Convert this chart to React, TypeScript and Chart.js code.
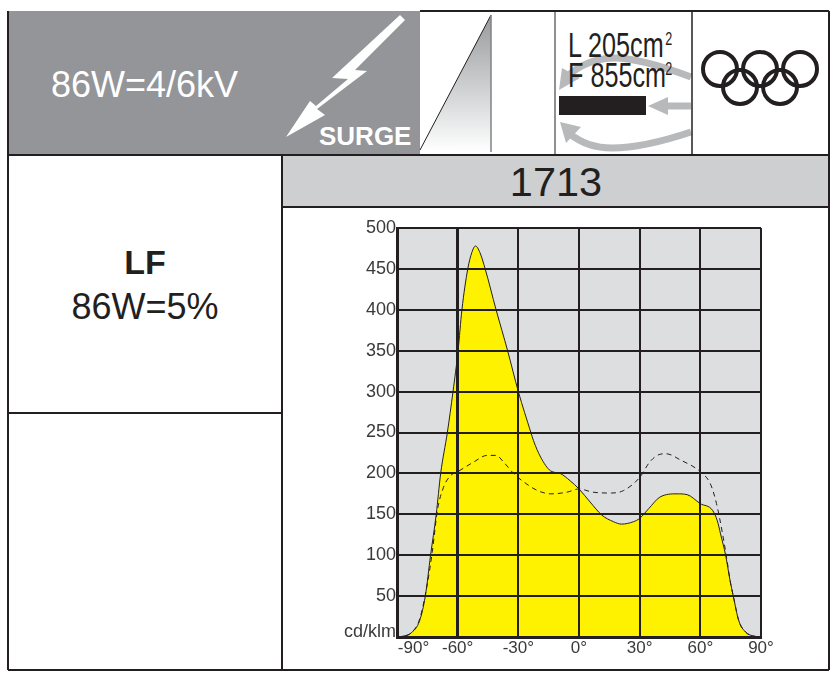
import React, { useEffect, useRef } from "react";
import { Chart, registerables } from "chart.js";

Chart.register(...registerables);

const solidAngles = [-90,-87,-83,-78.8,-76,-73.4,-70.6,-68.4,-65.1,-62.3,-59.8,-57.9,-55,-53,-51.2,-49,-46.4,-41,-35.3,-30,-23.8,-22.5,-19,-14,-9.4,-4.4,0,5.5,11.3,17,21,27,30,34.5,40,48.5,53.5,60,66,68.4,70,72.5,74.7,76.3,79,82.4,86.6,90];
const solidValues = [0,1,5,20,50,100,150,200,250,300,350,400,450,470,478,470,450,400,350,300,250,240,220,203,200,191,181,165,149,141,138,141,145,157,171,175,174,163,155,142,126,100,69,50,20,6,1,0];
const dashedAngles = [-90,-87,-83,-78.8,-75,-72.5,-70,-67,-63.6,-60,-52,-45.5,-41,-37,-32,-27,-20.5,-14,-6,0,7,16,22,30,35,39.6,43,50.5,60,65,68,71,73,75,76.3,79,82.4,86.6,90];
const dashedValues = [0,1,5,22,65,105,155,183,197,202,214,222,222,213,199,189,179,175,177,181,177,176,179,195,214,223,224,216,202,187,163,126,97,65,50,20,6,1,0];
const yTicks = [0,50,100,150,200,250,300,350,400,450,500];
const xTicks = [-90,-60,-30,0,30,60,90];

const INK = "#231f20";
const sans = '"Liberation Sans", Arial, sans-serif';

const plotBg = {
  id: "plotBg",
  beforeDraw(chart: any) {
    const { ctx, chartArea: a } = chart;
    ctx.save();
    ctx.fillStyle = "#dcdee0";
    ctx.fillRect(a.left, a.top, a.right - a.left, a.bottom - a.top);
    ctx.restore();
  },
};

function toPoints(xs: number[], ys: number[]) {
  return xs.map((x, i) => ({ x, y: ys[i] }));
}

export default function App() {
  const ref = useRef<HTMLCanvasElement>(null);
  useEffect(() => {
    const chart = new Chart(ref.current as HTMLCanvasElement, {
      type: "line",
      data: {
        datasets: [
          {
            data: toPoints(solidAngles, solidValues),
            order: 2,
            borderColor: INK,
            borderWidth: 1,
            backgroundColor: "#fff200",
            fill: "origin",
            pointRadius: 0,
            cubicInterpolationMode: "monotone",
          },
          {
            data: toPoints(dashedAngles, dashedValues),
            order: 1,
            borderColor: INK,
            borderWidth: 1,
            borderDash: [5, 4],
            fill: false,
            pointRadius: 0,
            cubicInterpolationMode: "monotone",
          },
        ],
      },
      options: {
        responsive: false,
        animation: false,
        layout: { padding: { left: 0, top: 20, right: 67, bottom: 0 } },
        plugins: { legend: { display: false }, tooltip: { enabled: false } },
        scales: {
          x: {
            type: "linear",
            min: -90,
            max: 90,
            afterBuildTicks(s: any) {
              s.ticks = xTicks.map((value) => ({ value }));
            },
            afterFit(s: any) {
              s.height = 31;
              s.paddingLeft = 0;
              s.paddingRight = 0;
            },
            border: { color: INK, width: 3, z: 2 },
            grid: {
              z: 1,
              color: INK,
              drawTicks: false,
              lineWidth: (c: any) => (c.tick && c.tick.value === -60 ? 3 : 2),
            },
            ticks: {
              autoSkip: false,
              maxRotation: 0,
              padding: 1,
              color: "#3a3a3c",
              font: { family: sans, size: 17 },
              callback: (v: any) => (v === -90 ? `       ${v}°` : `${v}°`),
            },
          },
          y: {
            type: "linear",
            min: 0,
            max: 500,
            afterBuildTicks(s: any) {
              s.ticks = yTicks.map((value) => ({ value }));
            },
            afterFit(s: any) {
              s.width = 115;
              s.paddingTop = 0;
              s.paddingBottom = 0;
            },
            border: { color: INK, width: 3, z: 2 },
            grid: { z: 1, color: INK, drawTicks: false, lineWidth: 2 },
            ticks: {
              autoSkip: false,
              padding: 1,
              color: "#3a3a3c",
              font: (c: any) =>
                c.tick && c.tick.value === 0
                  ? { family: sans, size: 18, lineHeight: 0.5 }
                  : { family: sans, size: 18 },
              callback: (v: any) => (v === 0 ? ["cd/klm", ""] : `${v}`),
            },
          },
        },
      },
      plugins: [plotBg],
    } as any);
    return () => chart.destroy();
  }, []);

  const T = (p: any) => <text fontFamily={sans} {...p} />;
  const Line = (x1: number, y1: number, x2: number, y2: number, w = 2) => (
    <line x1={x1} y1={y1} x2={x2} y2={y2} stroke={INK} strokeWidth={w} />
  );
  return (
    <div style={{ position: "fixed", left: 0, top: 0, width: 835, height: 681, background: "#fff", overflow: "hidden" }}>
      <svg width={835} height={681} style={{ position: "absolute", left: 0, top: 0 }}>
        <defs>
          <linearGradient id="tri" x1="0" y1="0" x2="0" y2="1">
            <stop offset="0" stopColor="#989a9d" />
            <stop offset="1" stopColor="#ffffff" />
          </linearGradient>
        </defs>
        <rect x={8} y={11} width={412} height={144} fill="#939598" />
        <rect x={282} y={156} width={547} height={51} fill="#cdcfd0" />
        <T x={51} y={97} fontSize={36} fill="#fff">86W=4/6kV</T>
        <polygon fill="#fff" points="400,15 332,78 348,79 316,106 310,101 286,137 325,115 317,109 367,71 355,70 405,20" />
        <T x={319} y={145} fontSize={26} fontWeight="bold" fill="#fff">SURGE</T>
        <polygon points="491,15 420,150 491,152" fill="url(#tri)" />
        <line x1={491} y1={15} x2={420} y2={150} stroke={INK} strokeWidth={1} />
        <line x1={491} y1={15} x2={491} y2={152} stroke="#808285" strokeWidth={1.5} />

        <g fill="none" stroke="#b7b9bb" strokeWidth={7}>
          <path d="M691,77 C675,71 640,58 615,58 C595,58 578,66 568,76" />
          <path d="M691,106 L664,106" />
          <path d="M691,132 C670,139 640,148 612,148 C595,148 580,142 570,134" />
        </g>
        <g fill="#b7b9bb">
          <polygon points="559,90 562,68 580,78" />
          <polygon points="648,106 668,97 668,115" />
          <polygon points="560,122 581,127 566,143" />
        </g>
        <rect x={559} y={96} width={87} height={19} fill={INK} />
        <g fill={INK}>
          <g transform="translate(568,57) scale(0.7,1)">
            <T x={0} y={0} fontSize={36}>L 205cm</T>
            <T x={139} y={-12} fontSize={18}>2</T>
          </g>
          <g transform="translate(568,87) scale(0.7,1)">
            <T x={0} y={0} fontSize={36}>F 855cm</T>
            <T x={139} y={-12} fontSize={18}>2</T>
          </g>
        </g>
        <g fill="none" stroke={INK} strokeWidth={4}>
          <circle cx={720} cy={69} r={17} />
          <circle cx={760} cy={69} r={17} />
          <circle cx={800} cy={69} r={17} />
          <circle cx={740} cy={87} r={17} />
          <circle cx={780} cy={87} r={17} />
        </g>

        <T x={145} y={274} fontSize={34} fontWeight="bold" fill={INK} textAnchor="middle">LF</T>
        <T x={145} y={319} fontSize={36} fill={INK} textAnchor="middle">86W=5%</T>
        <T x={556} y={196} fontSize={41.5} fill={INK} textAnchor="middle">1713</T>

        {Line(8, 155, 829, 155)}
        {Line(282, 207, 829, 207)}
        {Line(8, 413, 282, 413)}
        {Line(282, 155, 282, 670)}
        {Line(555, 11, 555, 155, 1)}
        {Line(692, 11, 692, 155, 1.5)}
        {Line(420, 11, 829, 11)}
        {Line(8, 11, 8, 670)}
        {Line(829, 11, 829, 670)}
        {Line(8, 670, 829, 670)}
      </svg>
      <canvas ref={ref} width={546} height={460} style={{ position: "absolute", left: 282, top: 208, width: 546, height: 460 }} />
    </div>
  );
}
